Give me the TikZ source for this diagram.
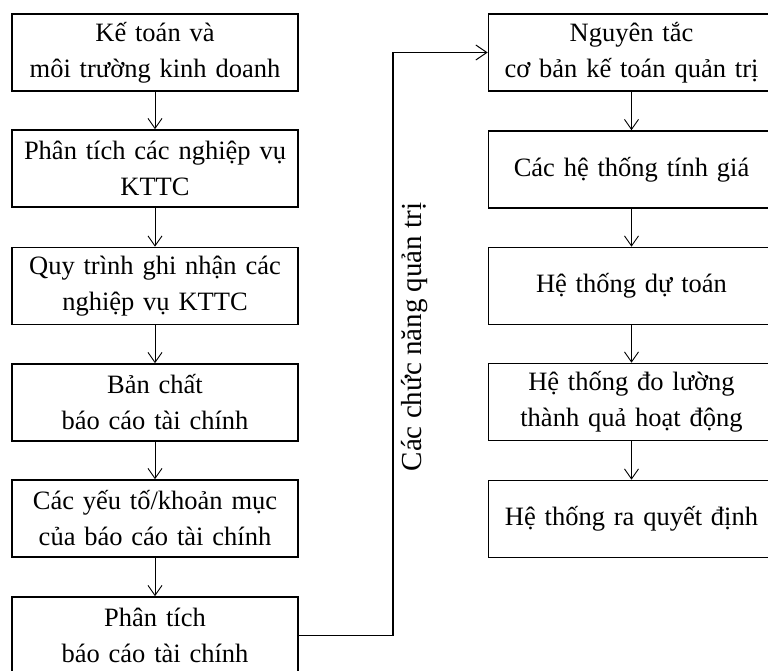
\documentclass[tikz,border=0pt]{standalone}
\usepackage{fontspec}
\setmainfont{Liberation Serif}
\usetikzlibrary{arrows.meta}
\begin{document}
\begin{tikzpicture}[x=1pt,y=-1pt,
  stepbox/.style={draw, line width=1.6pt, minimum height=77pt, inner xsep=3pt, inner ysep=0pt,
    text width=280pt, align=center, font=\fontsize{26.5}{36}\selectfont},
  flow/.style={line width=0.9pt, -{Straight Barb[length=10pt,width=14pt,line width=0.9pt]}},
  link/.style={line width=1.6pt, -{Straight Barb[length=11pt,width=15pt,line width=1pt]}},
  sidelabel/.style={font=\fontsize{29}{36}\selectfont, rotate=90, inner sep=0pt}]
\useasboundingbox (0,0) rectangle (768,671);

% left column: financial accounting
\node[stepbox] (l1) at (155,52.5)  {Kế toán và\\ môi trường kinh doanh};
\node[stepbox] (l2) at (155,168.5) {Phân tích các nghiệp vụ\\ KTTC};
\node[stepbox] (l3) at (155,286)   {Quy trình ghi nhận các\\ nghiệp vụ KTTC};
\node[stepbox] (l4) at (155,402.5) {Bản chất\\ báo cáo tài chính};
\node[stepbox] (l5) at (155,518.5) {Các yếu tố/khoản mục\\ của báo cáo tài chính};
\node[stepbox] (l6) at (155,635.5) {Phân tích\\ báo cáo tài chính};

% right column: management accounting
\node[stepbox] (r1) at (631.5,52.5)  {Nguyên tắc\\ cơ bản kế toán quản trị};
\node[stepbox] (r2) at (631.5,169.5) {Các hệ thống tính giá};
\node[stepbox] (r3) at (631.5,286)   {Hệ thống dự toán};
\node[stepbox] (r4) at (631.5,402)   {Hệ thống đo lường\\ thành quả hoạt động};
\node[stepbox] (r5) at (631.5,519)   {Hệ thống ra quyết định};

\foreach \a/\b in {l1/l2,l2/l3,l3/l4,l4/l5,l5/l6,r1/r2,r2/r3,r3/r4,r4/r5}
  \draw[flow] (\a.south) -- (\b.north);

% bridge between the two columns
\coordinate (bend) at (393,300);
\draw[link] (l6.east) -- (l6.east -| bend) -- (r1.west -| bend) -- (r1.west);
\node[sidelabel] (fn) at (415,337) {Các chức năng quản trị};
\end{tikzpicture}
\end{document}
